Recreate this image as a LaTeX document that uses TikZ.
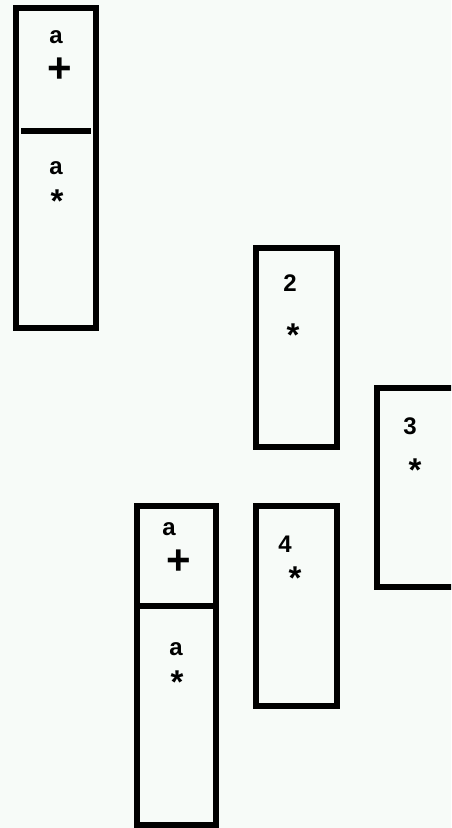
\documentclass[tikz,border=0pt]{standalone}
\usepackage{fontspec}
\setmainfont{Liberation Sans}
\usetikzlibrary{positioning}
\definecolor{paper}{RGB}{247,251,248}

\begin{document}
\begin{tikzpicture}[x=1pt, y=-1pt,
  col/.style={draw, line width=6pt, minimum width=81pt, inner sep=0pt},
  divider/.style={line width=5.5pt},
  lbl/.style={anchor=base, inner sep=0pt, font=\fontsize{24}{26}\selectfont\bfseries},
  star/.style={anchor=base, inner sep=0pt, font=\fontsize{33}{35}\selectfont\bfseries},
  plus/.style={anchor=base, inner sep=0pt, text height=0.5em, text depth=0pt, font=\fontsize{42}{44}\selectfont\bfseries}]
\useasboundingbox[fill=paper] (0,0) rectangle (451,828);
\clip (0,0) rectangle (451,828);
% columns
\node[col, minimum width=80pt, minimum height=320pt] (colA) at (56,168) {};
\node[col, minimum height=199pt] (col2) at (296.5,347.5) {};
\node[col, minimum height=199pt] (col3) at (417,487.5) {};
\node[col, minimum height=200pt] (col4) at (296.5,606) {};
\node[col, minimum width=79pt, minimum height=319pt] (colB) at (176.5,665.5) {};
% dividers
\coordinate (cutAl) at (21,131);
\coordinate (cutAr) at (91,131);
\coordinate (cutBl) at (colB.west |- 0,606);
\coordinate (cutBr) at (colB.east |- 0,606);
\draw[divider] (cutAl) -- (cutAr);
\draw[divider] (cutBl) -- (cutBr);
% labels
\node[lbl] (topA) at (56,43) {a};
\node[plus] (plusA) at (60,82) {+};
\node[lbl] (lowA) at (56,174) {a};
\node[star] (starA) at (57,212) {*};
\node[lbl] (num2) at (290,291) {2};
\node[star] (star2) at (293,346) {*};
\node[lbl] (num3) at (410,434) {3};
\node[star] (star3) at (415,481) {*};
\node[lbl] (num4) at (285,552) {4};
\node[star] (star4) at (295,589) {*};
\node[lbl] (topB) at (169,535) {a};
\node[plus] (plusB) at (179,574) {+};
\node[lbl] (lowB) at (176,655) {a};
\node[star] (starB) at (177,693) {*};
\end{tikzpicture}
\end{document}
